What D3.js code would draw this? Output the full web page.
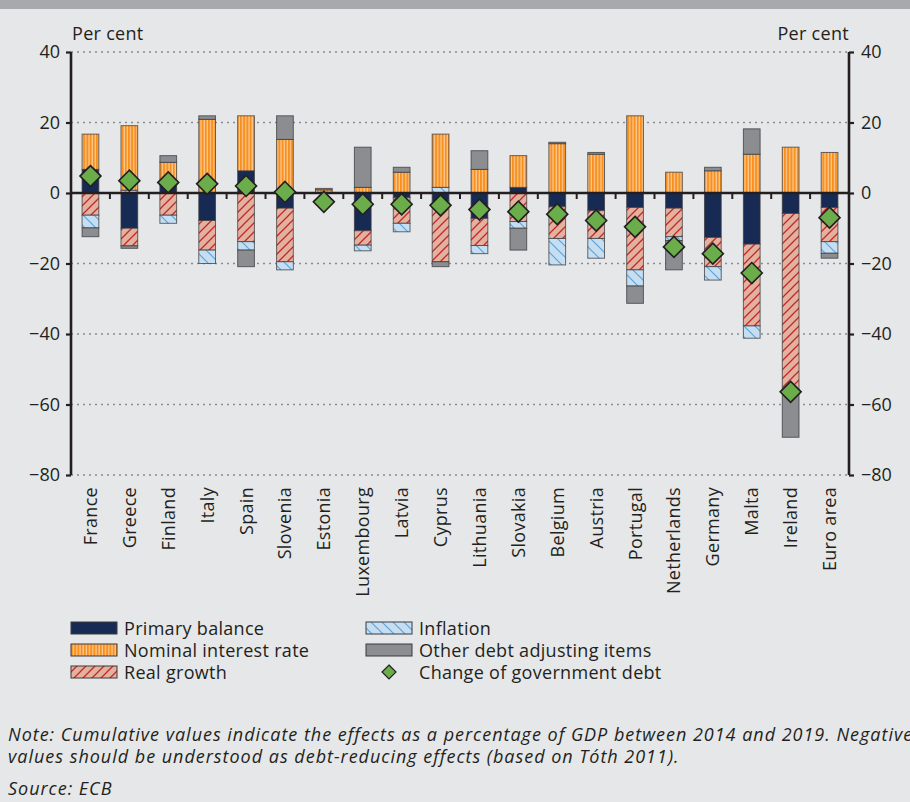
<!DOCTYPE html>
<html>
<head>
<meta charset="utf-8">
<script src="https://cdn.jsdelivr.net/npm/d3@7"></script>
<style>
  body { margin: 0; background: #e6e7e8; }
  svg { display: block; font-family: 'Open Sans', sans-serif; }
</style>
</head>
<body>
<div id="chart"></div>
<script>
// Per cent of GDP, cumulative 2014-2019
var countries = ['France', 'Greece', 'Finland', 'Italy', 'Spain', 'Slovenia', 'Estonia', 'Luxembourg',
    'Latvia', 'Cyprus', 'Lithuania', 'Slovakia', 'Belgium', 'Austria', 'Portugal', 'Netherlands',
    'Germany', 'Malta', 'Ireland', 'Euro area'];
var primaryBalance = [6.7, -10.0, 2.5, -7.8, 6.3, -4.3, 0, -10.7, -1.3, -2.3, -7.2, 1.6, -3.9, -5.0, -4.1, -4.3, -12.6, -14.5, -5.8, -4.1];
var nominalInterest = [10.0, 18.3, 6.2, 20.9, 15.6, 15.2, 0.9, 1.6, 5.9, 15.1, 6.7, 9.0, 14.0, 11.0, 21.9, 5.9, 6.3, 11.0, 13.0, 11.5];
var realGrowth = [-6.3, -5.0, -6.3, -8.4, -13.8, -15.2, 0, -4.1, -7.3, -17.2, -7.7, -8.1, -9.0, -7.9, -17.7, -8.1, -8.3, -23.2, -50.6, -9.7];
var inflation = [-3.6, 0.8, -2.3, -3.8, -2.4, -2.3, 0, -1.6, -2.4, 1.6, -2.3, -1.9, -7.5, -5.6, -4.6, -1.1, -3.8, -3.5, 0, -3.3];
var otherItems = [-2.5, -0.7, 1.9, 1.0, -4.7, 6.7, 0.4, 11.4, 1.4, -1.4, 5.3, -6.2, 0.4, 0.5, -4.9, -8.3, 1.0, 7.2, -12.9, -1.4];
var debtChange = [4.8, 3.5, 3.0, 2.6, 2.0, 0.3, -2.5, -3.2, -3.2, -3.5, -4.7, -5.3, -6.0, -7.8, -9.6, -15.3, -17.2, -22.7, -56.4, -7.0];
var yTicks = [40, 20, 0, -20, -40, -60, -80];

// stacking order matters: navy, real growth, inflation then interest rate and other on top
var series = [
    {key: 'pb', name: 'Primary balance', values: primaryBalance, fill: '#172a54'},
    {key: 'rg', name: 'Real growth', values: realGrowth, fill: 'url(#pat-rg)'},
    {key: 'inf', name: 'Inflation', values: inflation, fill: 'url(#pat-inf)'},
    {key: 'nir', name: 'Nominal interest rate', values: nominalInterest, fill: 'url(#pat-nir)'},
    {key: 'oth', name: 'Other debt adjusting items', values: otherItems, fill: '#8c8d91'}
];

var W = 910, H = 802;
var margin = {left: 71, right: 61, top: 52, bottom: 327};
var FS = 18, LS = 0.3;

var svg = d3.select('#chart').append('svg')
    .attr('width', W)
    .attr('height', H);

svg.append('rect').attr('width', W).attr('height', H).attr('fill', '#e6e7e8');
svg.append('rect').attr('width', W).attr('height', 9).attr('fill', '#a7a9ac');

// patterns
var defs = svg.append('defs');
var pNir = defs.append('pattern').attr('id', 'pat-nir')
    .attr('patternUnits', 'userSpaceOnUse').attr('width', 3.2).attr('height', 10);
pNir.append('rect').attr('width', 3.2).attr('height', 10).attr('fill', '#f7901e');
pNir.append('rect').attr('x', 2).attr('width', 1.2).attr('height', 10).attr('fill', '#fdc995');

var pRg = defs.append('pattern').attr('id', 'pat-rg')
    .attr('patternUnits', 'userSpaceOnUse').attr('width', 9).attr('height', 9);
pRg.append('rect').attr('width', 9).attr('height', 9).attr('fill', '#e3b29f');
pRg.append('path').attr('d', 'M-1,10 L10,-1 M-2,2 L2,-2 M7,11 L11,7')
    .attr('stroke', '#c1272d').attr('stroke-width', 1.3);

var pInf = defs.append('pattern').attr('id', 'pat-inf')
    .attr('patternUnits', 'userSpaceOnUse').attr('width', 11).attr('height', 11);
pInf.append('rect').attr('width', 11).attr('height', 11).attr('fill', '#c6def2');
pInf.append('path').attr('d', 'M-1,-1 L12,12 M-2,9 L2,13 M9,-2 L13,2')
    .attr('stroke', '#5fa3d6').attr('stroke-width', 1.2);

var x = d3.scaleBand()
    .domain(countries)
    .range([margin.left, W - margin.right])
    .paddingInner(0.57)
    .paddingOuter(0.285);

var y = d3.scaleLinear()
    .domain([-80, 40])
    .range([H - margin.bottom, margin.top]);

// gridlines
svg.append('g').selectAll('line')
    .data(yTicks.filter(function (d) { return d !== 0; }))
    .enter().append('line')
    .attr('x1', margin.left).attr('x2', W - margin.right)
    .attr('y1', function (d) { return y(d); })
    .attr('y2', function (d) { return y(d); })
    .attr('stroke', '#8a8b8e')
    .attr('stroke-width', 1.3)
    .attr('stroke-dasharray', '2,4');

// stack with diverging offset
var table = countries.map(function (c, i) {
    var row = {country: c};
    series.forEach(function (s) { row[s.key] = s.values[i]; });
    return row;
});
var stack = d3.stack()
    .keys(series.map(function (s) { return s.key; }))
    .offset(d3.stackOffsetDiverging);
var stacked = stack(table);

var layers = svg.append('g').selectAll('g')
    .data(stacked)
    .enter().append('g')
    .attr('fill', function (d, i) { return series[i].fill; });

layers.selectAll('rect')
    .data(function (d) { return d.filter(function (p) { return p[1] - p[0] !== 0; }); })
    .enter().append('rect')
    .attr('x', function (d) { return x(d.data.country); })
    .attr('width', x.bandwidth())
    .attr('y', function (d) { return y(Math.max(d[0], d[1])); })
    .attr('height', function (d) { return Math.abs(y(d[0]) - y(d[1])); })
    .attr('stroke', '#3a3a3c')
    .attr('stroke-opacity', 0.75)
    .attr('stroke-width', 1);

// zero line and category ticks
var zero = svg.append('g');
zero.append('line')
    .attr('x1', margin.left).attr('x2', W - margin.right)
    .attr('y1', y(0)).attr('y2', y(0))
    .attr('stroke', '#231f20').attr('stroke-width', 2.6);
zero.selectAll('.ctick')
    .data(countries.slice(1))
    .enter().append('line')
    .attr('class', 'ctick')
    .attr('x1', function (d) { return x(d) - x.step() * x.paddingInner() / 2; })
    .attr('x2', function (d) { return x(d) - x.step() * x.paddingInner() / 2; })
    .attr('y1', y(0)).attr('y2', y(0) + 6)
    .attr('stroke', '#231f20').attr('stroke-width', 2);

// left / right axes
var fmt = function (d) { return d < 0 ? '\u2212' + Math.abs(d) : d; };
var yLeft = d3.axisLeft(y).tickValues(yTicks).tickSize(5).tickPadding(6).tickFormat(fmt);
var yRight = d3.axisRight(y).tickValues(yTicks).tickSize(5).tickPadding(7).tickFormat(fmt);

[[yLeft, margin.left], [yRight, W - margin.right]].forEach(function (a) {
    var g = svg.append('g')
        .attr('transform', 'translate(' + a[1] + ',0)')
        .call(a[0]);
    g.select('.domain').attr('stroke', '#231f20').attr('stroke-width', 2.6)
        .attr('d', 'M0,' + y(40) + 'V' + y(-80));
    g.selectAll('.tick line').attr('stroke', '#231f20').attr('stroke-width', 2.2);
    g.selectAll('.tick text')
        .attr('font-family', "'Open Sans', sans-serif")
        .attr('font-size', FS)
        .attr('fill', '#231f20');
});

svg.append('text').attr('x', 72).attr('y', 40)
    .attr('font-size', FS).attr('letter-spacing', LS).attr('fill', '#231f20').text('Per cent');
svg.append('text').attr('x', W - margin.right).attr('y', 40)
    .attr('text-anchor', 'end')
    .attr('font-size', FS).attr('letter-spacing', LS).attr('fill', '#231f20').text('Per cent');

// change of government debt
svg.append('g').selectAll('path')
    .data(debtChange)
    .enter().append('path')
    .attr('transform', function (d, i) {
        return 'translate(' + (x(countries[i]) + x.bandwidth() / 2) + ',' + y(d) + ')';
    })
    .attr('d', 'M0,-10.5L10.5,0L0,10.5L-10.5,0Z')
    .attr('fill', '#6bac4b')
    .attr('stroke', '#231f20')
    .attr('stroke-width', 1.6);

// category labels
svg.append('g').selectAll('text')
    .data(countries)
    .enter().append('text')
    .attr('transform', function (d) {
        return 'translate(' + (x(d) + x.bandwidth() / 2 + 6.5) + ',487) rotate(-90)';
    })
    .attr('text-anchor', 'end')
    .attr('font-size', FS)
    .attr('letter-spacing', LS)
    .attr('fill', '#231f20')
    .text(function (d) { return d; });

// legend
var legendItems = [
    {name: 'Primary balance', fill: '#172a54', col: 0, row: 0},
    {name: 'Nominal interest rate', fill: 'url(#pat-nir)', col: 0, row: 1},
    {name: 'Real growth', fill: 'url(#pat-rg)', col: 0, row: 2},
    {name: 'Inflation', fill: 'url(#pat-inf)', col: 1, row: 0},
    {name: 'Other debt adjusting items', fill: '#8c8d91', col: 1, row: 1},
    {name: 'Change of government debt', fill: null, col: 1, row: 2}
];
var legend = svg.append('g').selectAll('g')
    .data(legendItems)
    .enter().append('g')
    .attr('transform', function (d) {
        return 'translate(' + (d.col ? 366 : 71) + ',' + (628 + d.row * 22) + ')';
    });
legend.filter(function (d) { return d.fill; }).append('rect')
    .attr('x', 0).attr('y', -6).attr('width', 46).attr('height', 12)
    .attr('fill', function (d) { return d.fill; })
    .attr('stroke', '#3a3a3c').attr('stroke-width', 1);
legend.filter(function (d) { return !d.fill; }).append('path')
    .attr('d', 'M23,-7L30,0L23,7L16,0Z')
    .attr('fill', '#6bac4b').attr('stroke', '#231f20').attr('stroke-width', 1.2);
legend.append('text')
    .attr('x', 53).attr('y', 6.5)
    .attr('font-size', FS).attr('letter-spacing', LS).attr('fill', '#231f20')
    .text(function (d) { return d.name; });

// note and source
var notes = [
    'Note: Cumulative values indicate the effects as a percentage of GDP between 2014 and 2019. Negative',
    'values should be understood as debt-reducing effects (based on T\u00f3th 2011).',
    'Source: ECB'
];
svg.append('g').selectAll('text')
    .data(notes)
    .enter().append('text')
    .attr('x', 8)
    .attr('y', function (d, i) { return [741, 763, 795][i]; })
    .attr('font-size', 18)
    .attr('letter-spacing', 0.98)
    .attr('font-style', 'italic')
    .attr('fill', '#231f20')
    .text(function (d) { return d; });
</script>
</body>
</html>
